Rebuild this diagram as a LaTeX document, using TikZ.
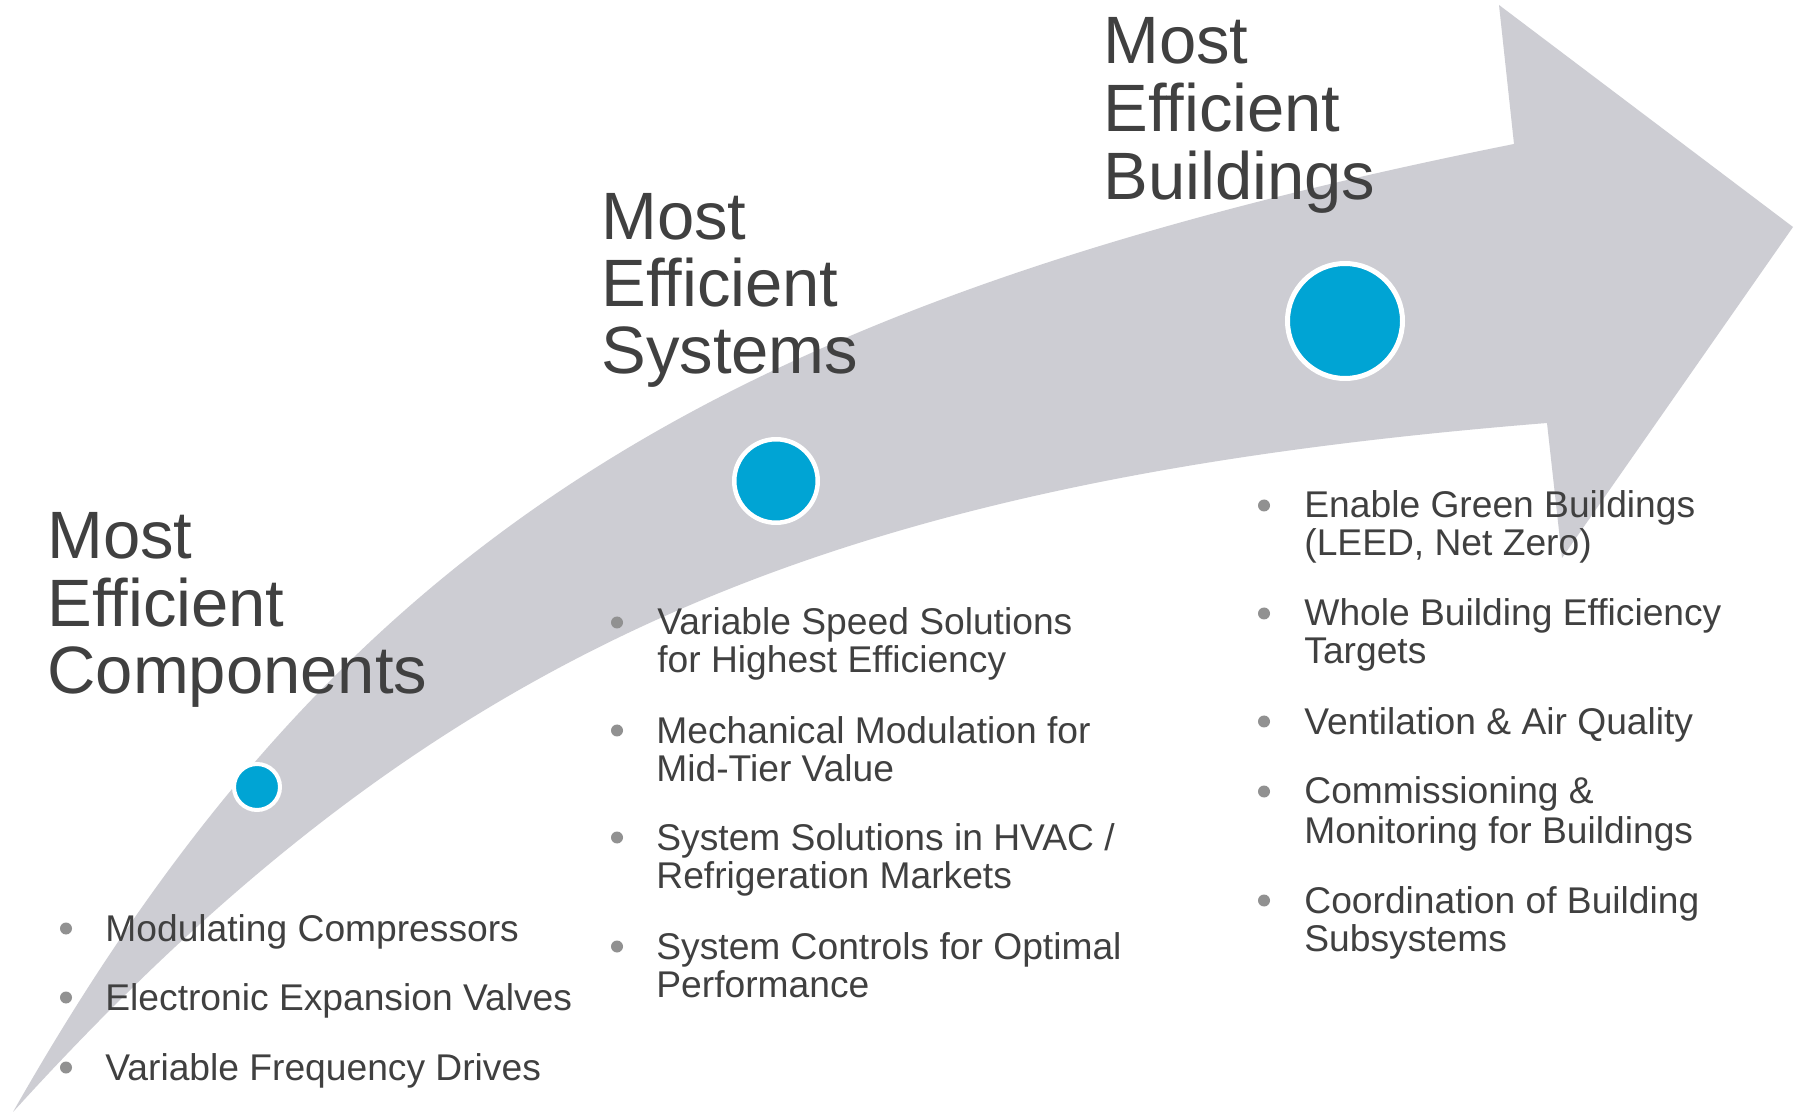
\documentclass[tikz,border=0pt]{standalone}
\usepackage{fontspec}
\setmainfont{Liberation Sans}

\definecolor{bandgray}{RGB}{205,205,211}
\definecolor{ink}{RGB}{64,64,64}
\definecolor{dotgray}{RGB}{145,145,145}
\definecolor{accent}{RGB}{0,164,212}

\tikzset{
  band/.style={fill=bandgray},
  titletext/.style={anchor=base west, inner sep=0pt, text=ink,
    font=\fontsize{33.5}{34}\selectfont},
  itemtext/.style={anchor=base west, inner sep=0pt, text=ink,
    font=\fontsize{18.6}{19}\selectfont},
  marker/.style={circle, fill=accent, draw=white, inner sep=0pt},
  bulletdot/.style={fill=dotgray}
}

\begin{document}
\begin{tikzpicture}[x=0.5pt,y=-0.5pt]
  \fill[white] (0,0) rectangle (1801,1112);
  \useasboundingbox (0,0) rectangle (1801,1112);

  % curved arrow
  \fill[band] (13,1112) .. controls (334,547) and (709,305) .. (1514,144)
    -- (1499,5) -- (1793,227) -- (1562,558) -- (1547,423)
    .. controls (813,482) and (429,654) .. cycle;

  % stage markers
  \node[marker, minimum size=23pt, line width=2pt] (m1) at (257,787) {};
  \node[marker, minimum size=41.75pt, line width=2.25pt] (m2) at (776,481) {};
  \node[marker, minimum size=57.5pt, line width=2.5pt] (m3) at (1345,321) {};

  % stage titles
  \node[titletext] (ta1) at (47,559) {Most};
  \node[titletext] (ta2) at (47,627) {Efficient};
  \node[titletext] (ta3) at (47,694) {Components};

  \node[titletext] (tb1) at (601,240) {Most};
  \node[titletext] (tb2) at (601,307) {Efficient};
  \node[titletext] (tb3) at (601,374) {Systems};

  \node[titletext] (tc1) at (1103,64) {Most};
  \node[titletext] (tc2) at (1103,132) {Efficient};
  \node[titletext] (tc3) at (1103,200) {Buildings};

  % first column
  \fill[bulletdot] (66,928.5) circle[radius=3pt];
  \fill[bulletdot] (66,997.5) circle[radius=3pt];
  \fill[bulletdot] (66,1067.5) circle[radius=3pt];
  \node[itemtext] (a1) at (105,941) {Modulating Compressors};
  \node[itemtext] (a2) at (105,1010) {Electronic Expansion Valves};
  \node[itemtext] (a3) at (105,1080) {Variable Frequency Drives};

  % second column
  \fill[bulletdot] (617,622.5) circle[radius=3pt];
  \fill[bulletdot] (617,730.5) circle[radius=3pt];
  \fill[bulletdot] (617,837.5) circle[radius=3pt];
  \fill[bulletdot] (617,946.5) circle[radius=3pt];
  \node[itemtext] (b1a) at (657,635) {Variable Speed Solutions};
  \node[itemtext] (b1b) at (657,673) {for Highest Efficiency};
  \node[itemtext] (b2a) at (656,743) {Mechanical Modulation for};
  \node[itemtext] (b2b) at (656,781) {Mid-Tier Value};
  \node[itemtext] (b3a) at (656,850) {System Solutions in HVAC /};
  \node[itemtext] (b3b) at (656,888) {Refrigeration Markets};
  \node[itemtext] (b4a) at (656,959) {System Controls for Optimal};
  \node[itemtext] (b4b) at (656,997) {Performance};

  % third column
  \fill[bulletdot] (1264,505.5) circle[radius=3pt];
  \fill[bulletdot] (1264,613.5) circle[radius=3pt];
  \fill[bulletdot] (1264,721.5) circle[radius=3pt];
  \fill[bulletdot] (1264,791.5) circle[radius=3pt];
  \fill[bulletdot] (1264,900.5) circle[radius=3pt];
  \node[itemtext] (c1a) at (1304,518) {Enable Green Buildings};
  \node[itemtext] (c1b) at (1304,556) {(LEED, Net Zero)};
  \node[itemtext] (c2a) at (1304,626) {Whole Building Efficiency};
  \node[itemtext] (c2b) at (1304,664) {Targets};
  \node[itemtext] (c3a) at (1304,734) {Ventilation \& Air Quality};
  \node[itemtext] (c4a) at (1304,804) {Commissioning \&};
  \node[itemtext] (c4b) at (1304,843) {Monitoring for Buildings};
  \node[itemtext] (c5a) at (1304,913) {Coordination of Building};
  \node[itemtext] (c5b) at (1304,951) {Subsystems};
\end{tikzpicture}
\end{document}
